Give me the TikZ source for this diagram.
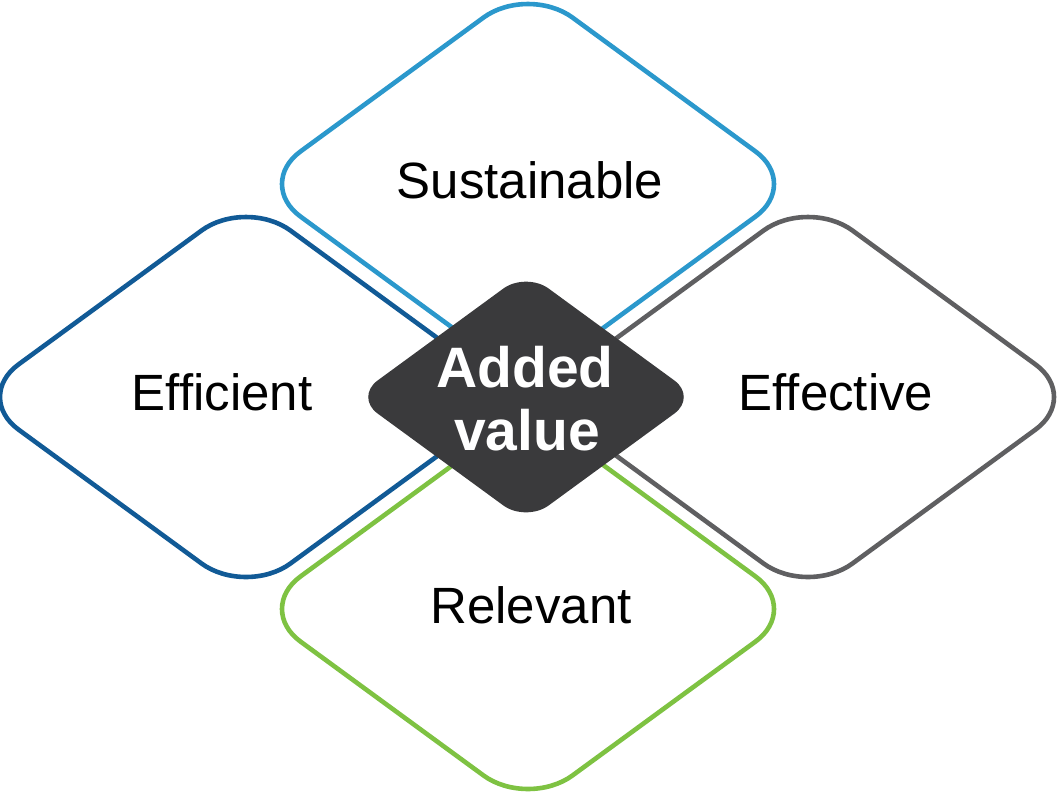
\documentclass[tikz,border=0pt]{standalone}
\usepackage{fontspec}
\setmainfont{Liberation Sans}
\definecolor{cTop}{RGB}{43,152,204}
\definecolor{cLeft}{RGB}{17,90,150}
\definecolor{cRight}{RGB}{95,95,97}
\definecolor{cBot}{RGB}{126,194,66}
\definecolor{cMid}{RGB}{58,58,60}
\tikzset{
  rdiam/.pic={\draw[pic actions, rounded corners=55pt] (-272,0) -- (0,-199) -- (272,0) -- (0,199) -- cycle;},
  cdiam/.pic={\fill[pic actions, rounded corners=28pt] (-171,0) -- (0,-125) -- (171,0) -- (0,125) -- cycle;},
  outline/.style={line width=4.6pt},
  lbl/.style={anchor=base, inner sep=0pt, font=\fontsize{51}{60}\selectfont, text=black},
  midlbl/.style={anchor=base, inner sep=0pt, font=\fontsize{57}{63}\selectfont\bfseries, text=white}
}
\begin{document}
\begin{tikzpicture}[x=1pt,y=-1pt]
\useasboundingbox (0,0) rectangle (1057,796);
\coordinate (ctop) at (528,184);
\coordinate (cleft) at (246,397);
\coordinate (cright) at (808,397);
\coordinate (cbot) at (528,609);
\coordinate (cmid) at (526,397);
\pic[draw=cTop, outline] at (ctop) {rdiam};
\pic[draw=cLeft, outline] at (cleft) {rdiam};
\pic[draw=cRight, outline] at (cright) {rdiam};
\pic[draw=cBot, outline] at (cbot) {rdiam};
\pic[fill=cMid] at (cmid) {cdiam};
\node[lbl] (sus) at (530,198) {Sustainable};
\node[lbl] (eff) at (222,410) {Efficient};
\node[lbl] (efv) at (836,410) {Effective};
\node[lbl] (rel) at (531,623) {Relevant};
\node[midlbl] (add) at (525,387) {Added};
\node[midlbl] (val) at (527,450) {value};
\end{tikzpicture}
\end{document}
